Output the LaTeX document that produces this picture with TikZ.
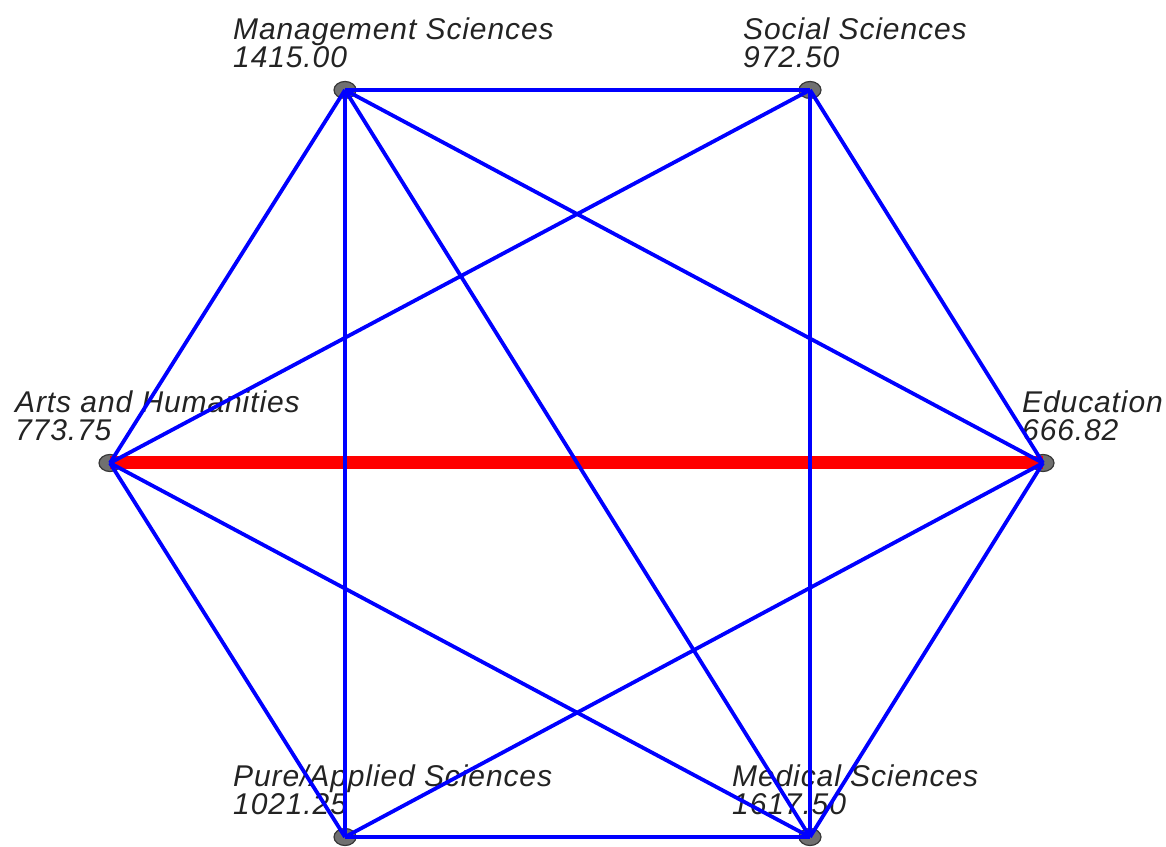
\documentclass[tikz,border=0pt]{standalone}
\usepackage{fontspec}
\setmainfont{Liberation Sans}[LetterSpace=3]
\usetikzlibrary{positioning,shapes.geometric}
\definecolor{dotgray}{RGB}{112,112,112}
\definecolor{dotrim}{RGB}{55,55,55}
\definecolor{lbltext}{RGB}{35,35,35}

\begin{document}
\begin{tikzpicture}[x=1pt, y=1pt,
        main/.style = {draw=dotrim, fill=dotgray, ellipse, line width=1.2pt, inner sep=0pt, minimum width=22pt, minimum height=17pt},
        lbl/.style = {text=lbltext, font=\itshape\fontsize{30}{28}\selectfont, align=left, inner sep=0pt, text depth=0pt},
        link/.style = {draw=blue, line width=3.8pt},
        best/.style = {draw=red, line width=13pt}]
    \useasboundingbox (0,0) rectangle (1166,846);
    \node[main] (ms) at (345,756) {};
    \node[main] (ss) at (810,756) {};
    \node[main] (ah) at (110,383) {};
    \node[main] (ed) at (1043,383) {};
    \node[main] (pa) at (345,9) {};
    \node[main] (md) at (810,9) {};
    \node[lbl, above right=22pt and -112pt of ms.center] (ms-lbl) {Management Sciences\\1415.00};
    \node[lbl, above right=22pt and -67pt of ss.center] (ss-lbl) {Social Sciences\\972.50};
    \node[lbl, above right=22pt and -95pt of ah.center] (ah-lbl) {Arts and Humanities\\773.75};
    \node[lbl, above right=22pt and -21pt of ed.center] (ed-lbl) {Education\\666.82};
    \node[lbl, above right=22pt and -112pt of pa.center] (pa-lbl) {Pure/Applied Sciences\\1021.25};
    \node[lbl, above right=22pt and -78pt of md.center] (md-lbl) {Medical Sciences\\1617.50};
    \draw[best] (ah.center) edge (ed.center);
    \draw[link] (ms.center) edge (ss.center);
    \draw[link] (ms.center) edge (ah.center);
    \draw[link] (ms.center) edge (pa.center);
    \draw[link] (ms.center) edge (md.center);
    \draw[link] (ms.center) edge (ed.center);
    \draw[link] (ss.center) edge (ah.center);
    \draw[link] (ss.center) edge (md.center);
    \draw[link] (ss.center) edge (ed.center);
    \draw[link] (ah.center) edge (pa.center);
    \draw[link] (ah.center) edge (md.center);
    \draw[link] (ed.center) edge (pa.center);
    \draw[link] (ed.center) edge (md.center);
    \draw[link] (pa.center) edge (md.center);
\end{tikzpicture}
\end{document}
